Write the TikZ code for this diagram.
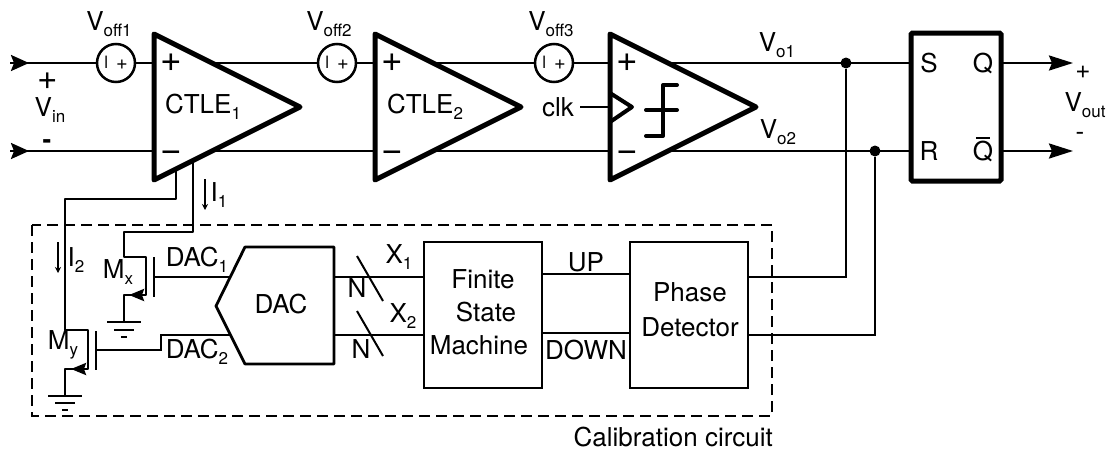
\documentclass[tikz,border=0pt]{standalone}
\usepackage{fontspec}
\setmainfont{TeX Gyre Heros}
\usetikzlibrary{arrows.meta,backgrounds,shapes.geometric}
\newcommand{\sublab}[1]{\raisebox{-6pt}{\fontsize{17}{17}\selectfont #1}}
\tikzset{
	txt/.style={inner sep=0pt, font=\fontsize{26}{30}\selectfont},
	sign/.style={inner sep=0pt, font=\fontsize{37}{37}\selectfont},
	wire/.style={line width=2.5pt},
	ampBox/.style={isosceles triangle, isosceles triangle stretches, draw, fill=white, line width=5pt, line join=round, outer sep=0pt, inner sep=0pt, minimum width=146pt, minimum height=146pt, anchor=lower side},
	offBox/.style={circle, draw, fill=white, line width=2.5pt, minimum size=38pt, inner sep=0pt, font=\fontsize{20}{20}\selectfont},
	logicBox/.style={rectangle, draw, line width=2.8pt, outer sep=0pt, minimum width=118pt, minimum height=146pt},
	dotJoin/.style={circle, fill=black, inner sep=0pt, minimum size=11pt},
	bigTip/.style={-{Stealth[length=24pt,width=15pt,inset=3pt]}, line width=2.5pt},
	inTip/.style={-{Stealth[length=18pt,width=16pt,inset=3pt]}, line width=2.5pt},
	smallTip/.style={-{Stealth[length=6pt,width=6pt]}, line width=1.5pt},
	mosTip/.style={-{Stealth[length=15pt,width=12pt,inset=2pt]}, line width=2.5pt}
}
\begin{document}
\begin{tikzpicture}[x=1pt,y=-1pt]
	\useasboundingbox (0,0) rectangle (1112,453);

	% amplifiers
	\node[ampBox](ctleOne) at (154,107){};
	\node[ampBox](ctleTwo) at (375,107){};
	\node[ampBox](compBox) at (610,107){};
	\node[txt](ctleOneText) at (203,107){CTLE\sublab{1}};
	\node[txt](ctleTwoText) at (425,107){CTLE\sublab{2}};

	\node[sign](onePlus) at (171,63){+};
	\node[sign](oneMinus) at (171,156){−};
	\node[sign](twoPlus) at (392,63){+};
	\node[sign](twoMinus) at (392,156){−};
	\node[sign](compPlus) at (627,63){+};
	\node[sign](compMinus) at (627,156){−};

	% offset sources
	\node[offBox](offOne) at (116,63){\raisebox{1pt}{\fontsize{17}{17}\selectfont l}\hspace{8pt}+};
	\node[offBox](offTwo) at (337,63){\raisebox{1pt}{\fontsize{17}{17}\selectfont l}\hspace{8pt}+};
	\node[offBox](offThree) at (554,63){\raisebox{1pt}{\fontsize{17}{17}\selectfont l}\hspace{8pt}+};
	\node[txt](offOneText) at (109,24){V\sublab{off1}};
	\node[txt](offTwoText) at (329,24){V\sublab{off2}};
	\node[txt](offThreeText) at (551,24){V\sublab{off3}};

	% latch
	\node[rectangle, draw, line width=5pt, rounded corners=1.5pt, outer sep=0pt, minimum width=90pt, minimum height=148pt](srBox) at (956,107){};
	\node[txt](sText) at (929,63){S};
	\node[txt](qText) at (983,63){Q};
	\node[txt](rText) at (929,151){R};
	\node[txt, anchor=base](qbarText) at (983,160){\rlap{\hspace{3pt}\raisebox{21pt}{\rule{14pt}{2pt}}}Q};
	\node[dotJoin](joinOne) at (846,63){};
	\node[dotJoin](joinTwo) at (875,151){};

	% calibration blocks
	\node[logicBox](fsmBox) at (483,315){};
	\node[logicBox](pdBox) at (689,315){};
	\node[txt, align=center](fsmText) at (483,312){Finite\\[3pt]\hspace*{6pt}State\\[3pt]Machine\hspace*{8pt}};
	\node[txt, align=center](pdText) at (690,310){Phase\\[5pt]Detector};
	\node[txt](dacText) at (281,304){DAC};
	\coordinate (dacTopLeft) at (245,247);
	\coordinate (dacTopRight) at (334,247);
	\coordinate (dacBotRight) at (334,364);
	\coordinate (dacBotLeft) at (245,364);
	\coordinate (dacTip) at (216,306);
	\draw[line width=2.8pt, line join=round] (dacTopLeft) -- (dacTopRight) -- (dacBotRight) -- (dacBotLeft) -- (dacTip) -- cycle;
	\draw[dashed, line width=2.5pt, dash pattern=on 11pt off 6pt] (32,225) rectangle (772,416);
	\node[txt, anchor=east](calText) at (773,437){Calibration circuit};

	% wires behind the blocks
	\coordinate (vinPlus) at (10,63);
	\coordinate (vinPlusTip) at (29,63);
	\coordinate (vinMinus) at (10,151);
	\coordinate (vinMinusTip) at (29,151);
	\coordinate (srS) at (911,63);
	\coordinate (srR) at (911,151);
	\coordinate (srQ) at (1001,63);
	\coordinate (srQbar) at (1001,151);
	\coordinate (outPlus) at (1073,63);
	\coordinate (outMinus) at (1073,151);
	\coordinate (pdOutOne) at (748,277);
	\coordinate (pdOutTwo) at (748,335);
	\coordinate (dacOutOne) at (334,277);
	\coordinate (dacOutTwo) at (334,335);
	\coordinate (fsmInOne) at (424,277);
	\coordinate (fsmInTwo) at (424,335);
	\coordinate (fsmUp) at (542,274);
	\coordinate (pdUp) at (630,274);
	\coordinate (fsmDown) at (542,333);
	\coordinate (pdDown) at (630,333);
	\coordinate (dacInOne) at (230,277);
	\coordinate (dacInTwo) at (230,335);
	\begin{scope}[on background layer]
		\draw[wire] (vinPlus) -- (offOne);
		\draw[wire] (offOne) -- (offTwo);
		\draw[wire] (offTwo) -- (offThree);
		\draw[wire] (offThree) -- (srS);
		\draw[wire] (vinMinus) -- (srR);
		\draw[wire] (joinOne) |- (pdOutOne);
		\draw[wire] (joinTwo) |- (pdOutTwo);
		\draw[wire] (dacOutOne) -- (fsmInOne);
		\draw[wire] (dacOutTwo) -- (fsmInTwo);
		\draw[wire] (fsmUp) -- (pdUp);
		\draw[wire] (fsmDown) -- (pdDown);
	\end{scope}
	\draw[inTip] (vinPlus) -- (vinPlusTip);
	\draw[inTip] (vinMinus) -- (vinMinusTip);
	\draw[bigTip] (srQ) -- (outPlus);
	\draw[bigTip] (srQbar) -- (outMinus);

	% transistors
	\coordinate (mxGateTop) at (154,257);
	\coordinate (mxGateBot) at (154,297);
	\coordinate (mxGate) at (154,277);
	\coordinate (myGateTop) at (96,331);
	\coordinate (myGateBot) at (96,370);
	\coordinate (myGate) at (96,350);
	\coordinate (myBend) at (161,350);
	\coordinate (myBendTop) at (161,335);
	\draw[wire] (mxGateTop) -- (mxGateBot);
	\draw[wire] (myGateTop) -- (myGateBot);
	\draw[wire] (mxGate) -- (dacInOne);
	\draw[wire] (myGate) -- (myBend) -- (myBendTop) -- (dacInTwo);
	\begin{scope}[on background layer]
		\draw[wire, line join=round] (193,150) -- (193,232) -- (124,232) -- (124,257) -- (146,257) -- (146,295) -- (124,295) -- (124,322);
		\draw[wire, line join=round] (176,150) -- (176,199) -- (65,199) -- (65,330) -- (88,330) -- (88,369) -- (65,369) -- (65,396);
	\end{scope}
	\coordinate (mxSource) at (145,295);
	\coordinate (mxTip) at (129,295);
	\coordinate (mySource) at (87,369);
	\coordinate (myTip) at (71,369);
	\draw[mosTip] (mxSource) -- (mxTip);
	\draw[mosTip] (mySource) -- (myTip);

	% grounds
	\draw[wire] (107,322) -- (141,322);
	\draw[wire] (114,330) -- (134,330);
	\draw[wire] (121,337) -- (127,337);
	\draw[wire] (48,396) -- (82,396);
	\draw[wire] (55,403) -- (75,403);
	\draw[wire] (62,410) -- (68,410);

	% bus slashes
	\draw[line width=2pt] (357,256) -- (383,301);
	\draw[line width=2pt] (357,311) -- (383,356);

	% clock and decision mark
	\coordinate (clkStart) at (580,107);
	\coordinate (clkEnd) at (610,107);
	\draw[wire] (clkStart) -- (clkEnd);
	\draw[line width=4pt, line join=round] (610,93) -- (632,107) -- (610,122);
	\draw[line width=4pt, line cap=round, line join=round] (646,136) -- (663,136) -- (663,85) -- (677,85);
	\draw[line width=4pt, line cap=round] (646,110) -- (677,110);

	% current arrows
	\draw[smallTip] (205,179) -- (205,210);
	\draw[smallTip] (58,242) -- (58,273);

	% labels
	\node[txt](clkText) at (558,107){clk};
	\node[txt](voOneText) at (777,45){V\sublab{o1}};
	\node[txt](voTwoText) at (778,132){V\sublab{o2}};
	\node[sign, font=\fontsize{35}{35}\selectfont](vinPlusText) at (48,81){+};
	\node[txt](vinText) at (50,110){V\sublab{in}};
	\node[txt](vinMinusText) at (47,144){\textbf{-}};
	\node[txt](outPlusText) at (1083,72){+};
	\node[txt](voutText) at (1085,105){V\sublab{out}};
	\node[txt](outMinusText) at (1080,136){-};
	\node[txt](iOneText) at (219,195){I\sublab{1}};
	\node[txt](iTwoText) at (76,260){I\sublab{2}};
	\node[txt](mxText) at (118,272){M\sublab{x}};
	\node[txt](myText) at (63,345){M\sublab{y}};
	\node[txt](dacOneText) at (197,260){DAC\sublab{1}};
	\node[txt](dacTwoText) at (197,352){DAC\sublab{2}};
	\node[txt](xOneText) at (399,257){X\sublab{1}};
	\node[txt](xTwoText) at (403,316){X\sublab{2}};
	\node[txt](nOneText) at (357,288){N};
	\node[txt](nTwoText) at (361,349){N};
	\node[txt](upText) at (586,262){UP};
	\node[txt](downText) at (586,350){DOWN};
\end{tikzpicture}
\end{document}
